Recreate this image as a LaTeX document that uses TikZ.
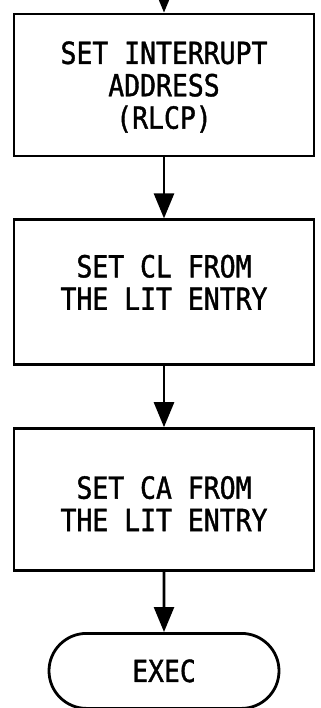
\documentclass[tikz,border=0pt]{standalone}
\usepackage{fontspec}
\newfontfamily\flowfont[FakeStretch=0.87,FakeBold=1.3]{DejaVu Sans Mono}
\usetikzlibrary{arrows.meta,positioning,shapes.misc}

\begin{document}
\begin{tikzpicture}[
  x=1bp,y=-1bp,
  node distance=61bp,
  box/.style={draw,rectangle,minimum width=300bp,minimum height=142bp,line width=2.8bp},
  txt/.style={align=center,inner sep=0pt,font=\flowfont\fontsize{30.5}{32.5}\selectfont},
  term/.style={draw,rounded rectangle,minimum width=230bp,minimum height=75bp,line width=2.8bp,inner sep=0pt,font=\flowfont\fontsize{30.5}{32.5}\selectfont},
  arr/.style={-{Triangle[length=25bp,width=20bp]},line width=2.6bp}
]
\useasboundingbox (0,0) rectangle (320,708);

\coordinate (entry) at (164,-30);
\node[box] (irq) at (164,85) {};
\node[box,minimum height=145bp,below=of irq] (setcl) {};
\node[box,below=of setcl] (setca) {};
\node[term,below=60bp of setca] (exec) {EXEC};

\node[txt] (irqtxt) at ([yshift=-2bp]irq.center) {SET INTERRUPT\\ADDRESS\\(RLCP)};
\node[txt] (setcltxt) at ([yshift=10bp]setcl.center) {SET CL FROM\\THE LIT ENTRY};
\node[txt] (setcatxt) at ([yshift=-4bp]setca.center) {SET CA FROM\\THE LIT ENTRY};

\draw[arr] (entry) -- (irq);
\draw[arr] (irq) -- (setcl);
\draw[arr] (setcl) -- (setca);
\draw[arr] (setca) -- (exec);

\end{tikzpicture}
\end{document}
